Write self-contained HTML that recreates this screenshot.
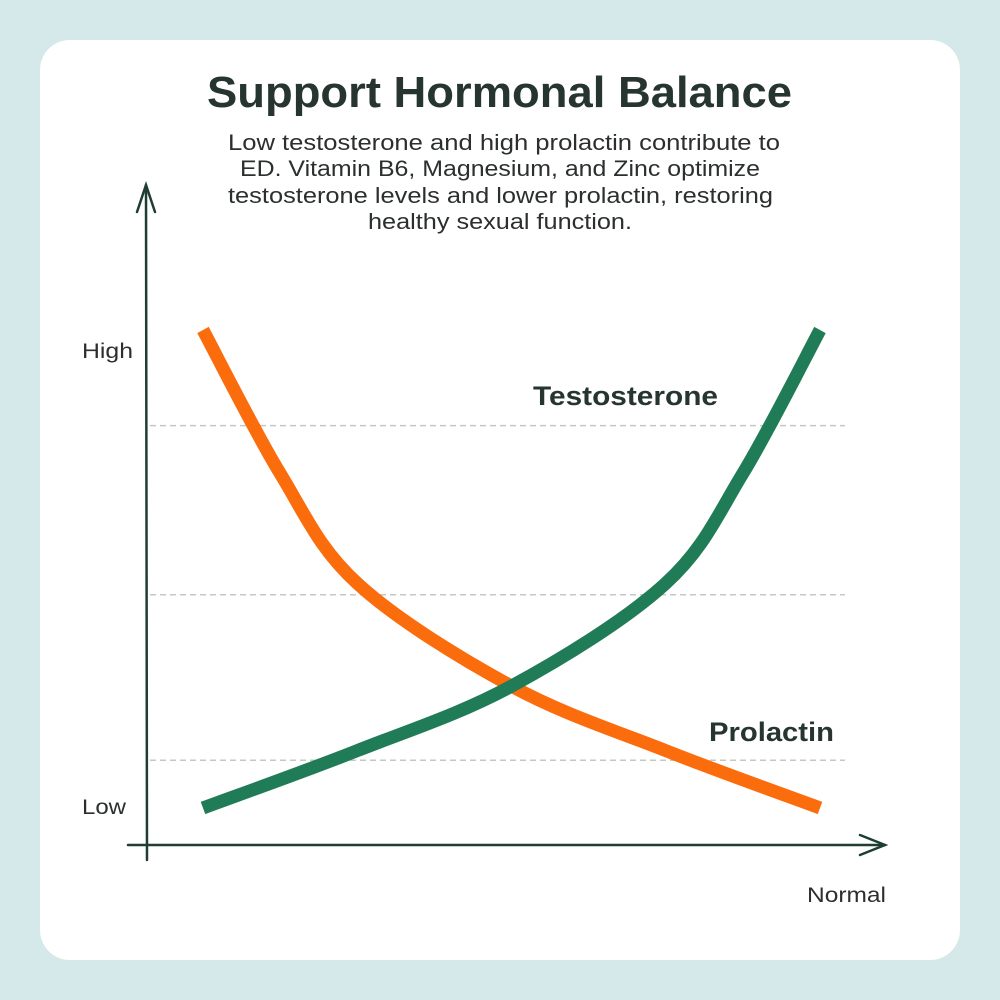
<!DOCTYPE html>
<html><head><meta charset="utf-8"><style>
body{margin:0;width:1000px;height:1000px;background:#d5e9ea;font-family:"Liberation Sans",sans-serif;}
.card{position:absolute;left:40px;top:40px;width:920px;height:920px;background:#fff;border-radius:30px;}
</style></head><body>
<div class="card"></div>
<svg width="1000" height="1000" style="position:absolute;left:0;top:0">
<text x="207" y="107" textLength="585" lengthAdjust="spacingAndGlyphs" font-size="44" font-weight="bold" fill="#263530">Support Hormonal Balance</text>
<g font-size="22" fill="#2b2f2e">
<text x="228" y="150" textLength="552" lengthAdjust="spacingAndGlyphs">Low testosterone and high prolactin contribute to</text>
<text x="240" y="176" textLength="520" lengthAdjust="spacingAndGlyphs">ED. Vitamin B6, Magnesium, and Zinc optimize</text>
<text x="228" y="203" textLength="545" lengthAdjust="spacingAndGlyphs">testosterone levels and lower prolactin, restoring</text>
<text x="368" y="229" textLength="264" lengthAdjust="spacingAndGlyphs">healthy sexual function.</text>
</g>
<g id="grid"></g>
<g stroke="#1f3d33" stroke-width="2.5" fill="none" stroke-linecap="round">
<path d="M147 860 L146 185"/>
<path d="M137 212 L146 185 L155 212"/>
<path d="M128 845 L885 845"/>
<path d="M860 835 L885 845 L860 855"/>
</g>
<text x="82" y="358" textLength="51" lengthAdjust="spacingAndGlyphs" font-size="21" fill="#2b2f2e">High</text>
<text x="82" y="814" textLength="44" lengthAdjust="spacingAndGlyphs" font-size="21" fill="#2b2f2e">Low</text>
<text x="807" y="902" textLength="79" lengthAdjust="spacingAndGlyphs" font-size="21" fill="#2b2f2e">Normal</text>
<g id="series"></g>
<text x="533" y="405" textLength="185" lengthAdjust="spacingAndGlyphs" font-size="27" font-weight="bold" fill="#263530">Testosterone</text>
<text x="709" y="741" textLength="125" lengthAdjust="spacingAndGlyphs" font-size="27" font-weight="bold" fill="#263530">Prolactin</text>
</svg>
<script>
const gridValues=[80,44.6,10];
const prolactinX=[0,1.25,2.5,5.0,7.5,10];
const prolactinY=[100,70,47,25.5,12,0];
const testosteroneX=[0,2.5,5.0,7.5,8.75,10];
const testosteroneY=[0,12,25.5,47,70,100];
const sx=v=>203+v*61.7, sy=v=>808-v*4.78;
const NS="http://www.w3.org/2000/svg";
const grid=document.getElementById('grid');
gridValues.forEach(v=>{const l=document.createElementNS(NS,'line');


l.setAttribute('x1',150);l.setAttribute('x2',845);l.setAttribute('y1',sy(v));l.setAttribute('y2',sy(v));
l.setAttribute('stroke','#c4c8c6');l.setAttribute('stroke-width','1.5');l.setAttribute('stroke-dasharray','6 4');grid.appendChild(l);});
function path(xs,ys){const p=xs.map((x,i)=>[sx(x),sy(ys[i])]);let d='M'+p[0].join(' ');
for(let i=0;i<p.length-1;i++){const p0=p[Math.max(0,i-1)],p1=p[i],p2=p[i+1],p3=p[Math.min(p.length-1,i+2)];
d+=` C${p1[0]+(p2[0]-p0[0])/6} ${p1[1]+(p2[1]-p0[1])/6} ${p2[0]-(p3[0]-p1[0])/6} ${p2[1]-(p3[1]-p1[1])/6} ${p2[0]} ${p2[1]}`;}return d;}
const g=document.getElementById('series');
[[prolactinX,prolactinY,'#fb6c0c','prolactin-line'],[testosteroneX,testosteroneY,'#1f7c57','testosterone-line']].forEach(s=>{
const e=document.createElementNS(NS,'path');


e.setAttribute('d',path(s[0],s[1]));e.setAttribute('fill','none');e.setAttribute('stroke',s[2]);e.setAttribute('stroke-width','13');g.appendChild(e);});
</script>
</body></html>
